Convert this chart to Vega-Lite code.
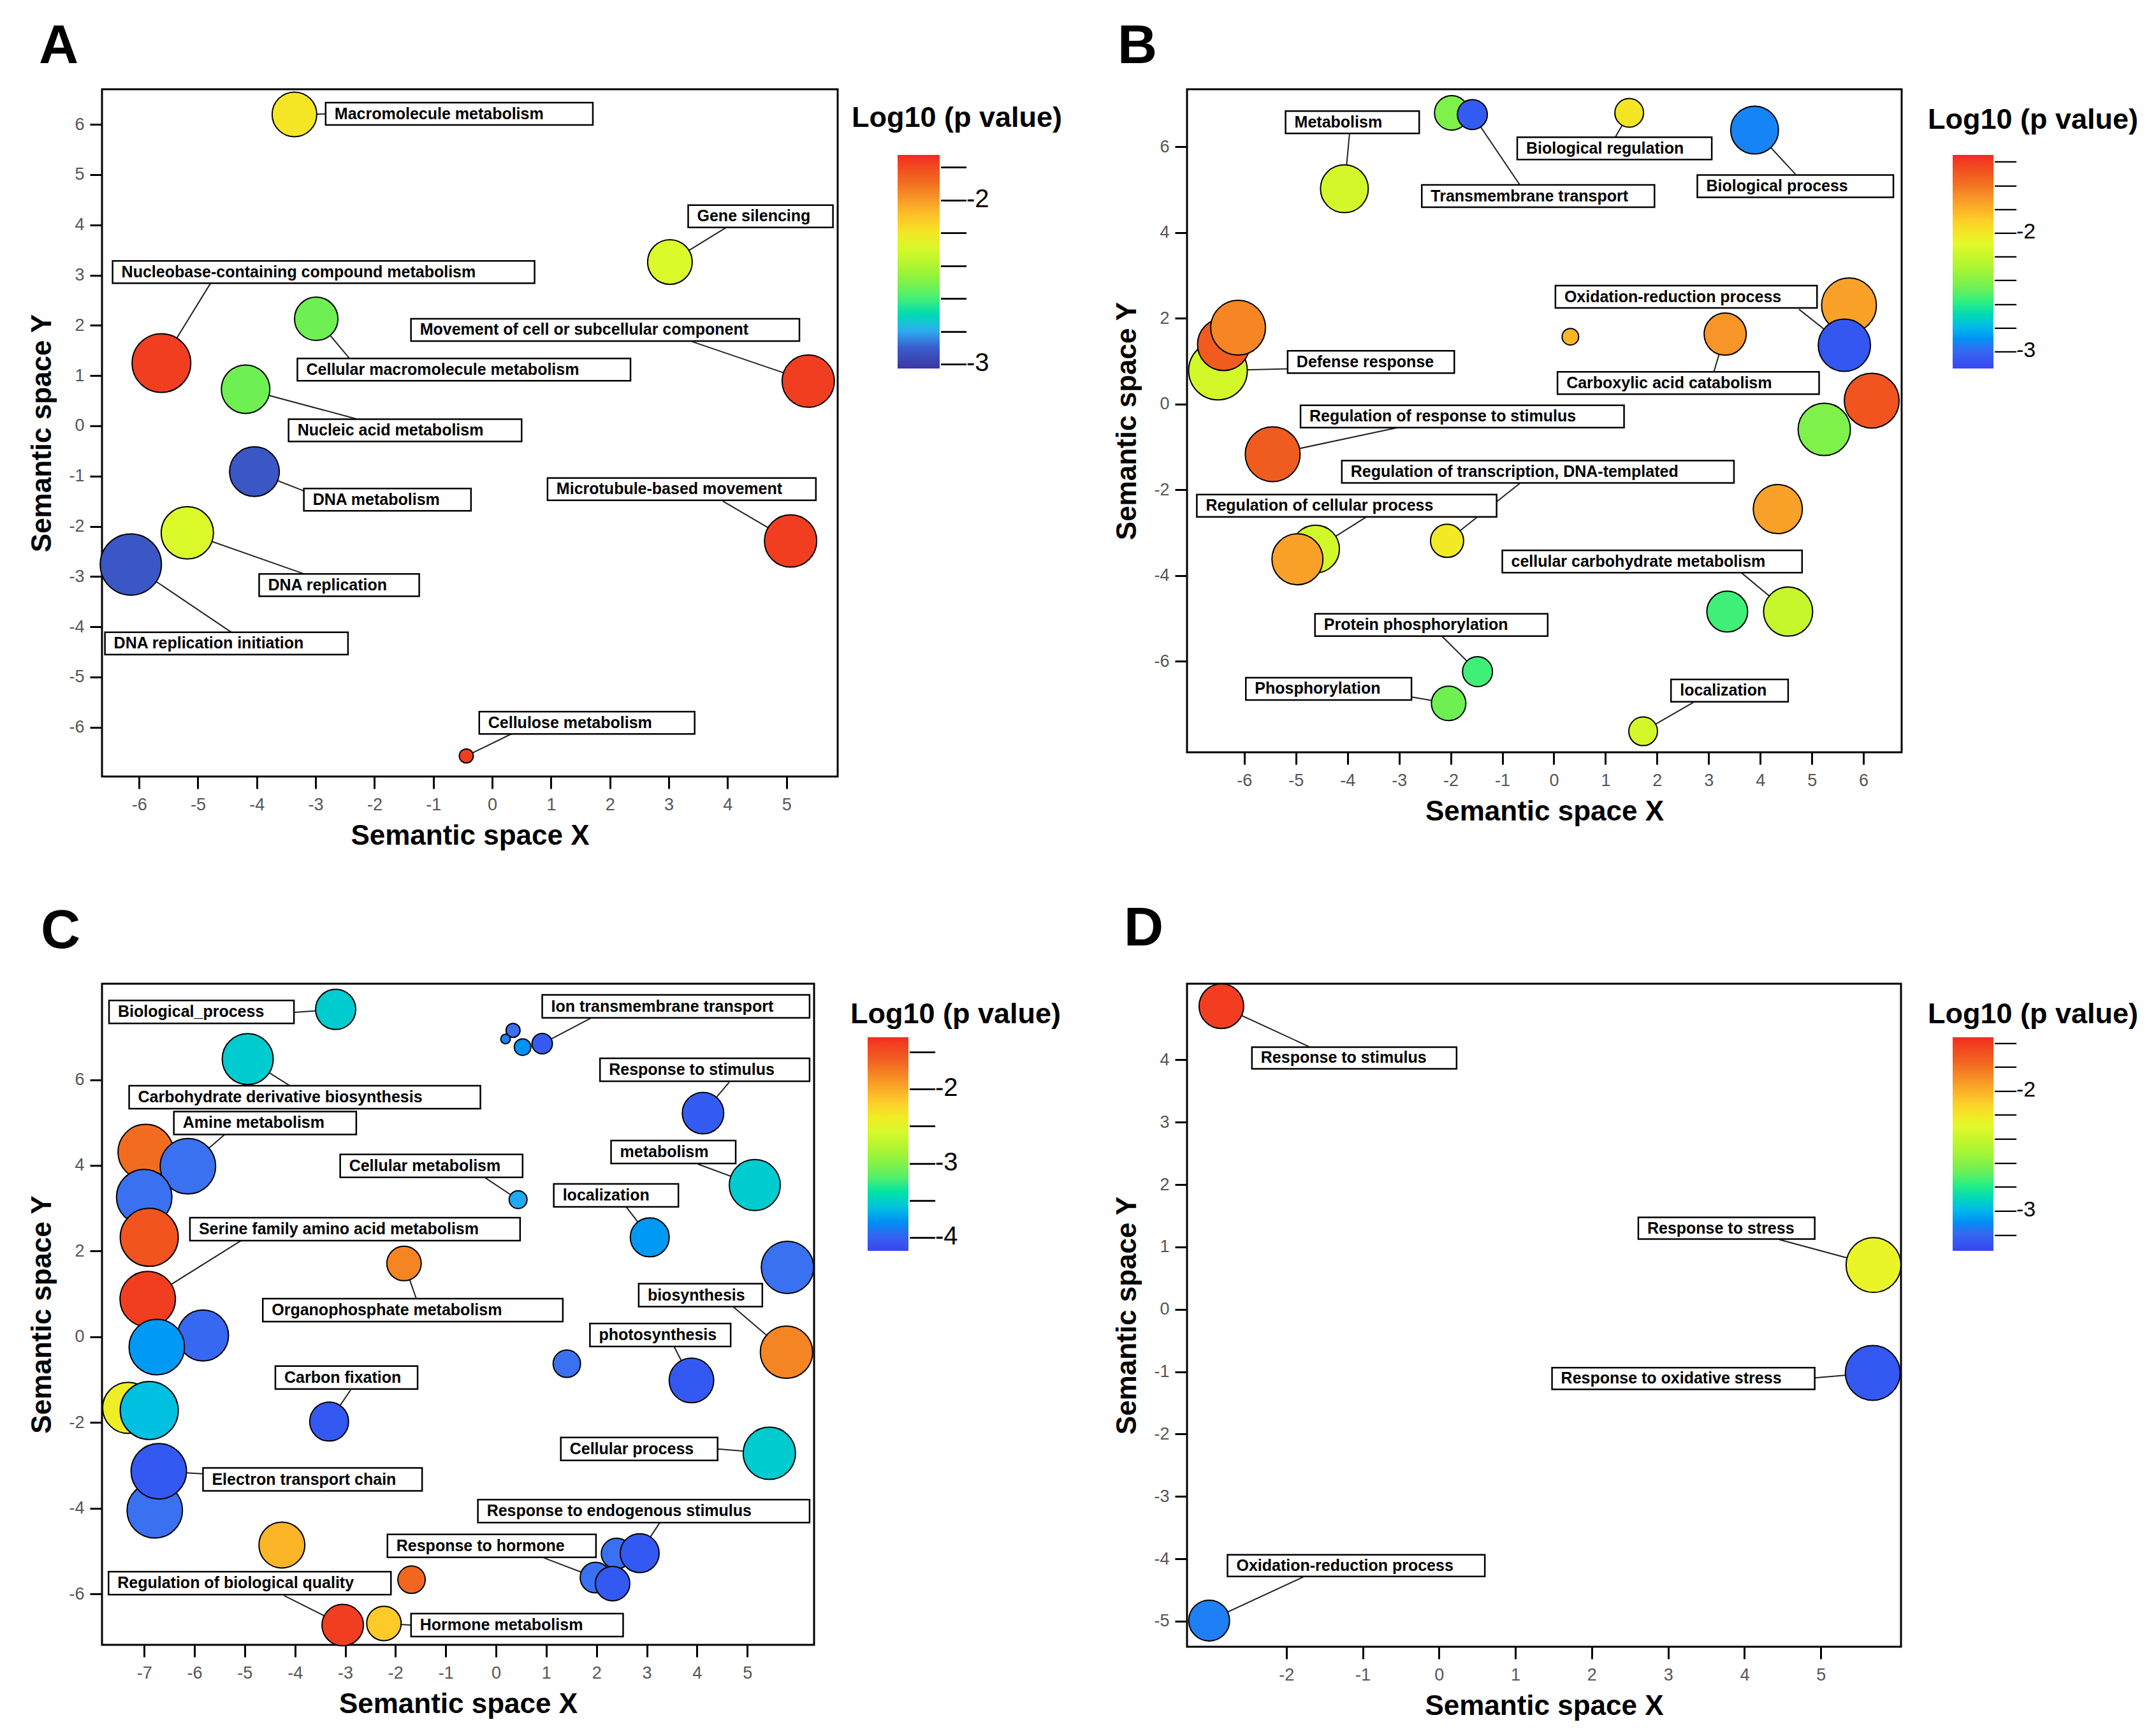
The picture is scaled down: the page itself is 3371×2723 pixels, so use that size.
{
"$schema": "https://vega.github.io/schema/vega-lite/v6.json",
"background": "white",
"padding": {"left": 43, "top": 28, "right": 5, "bottom": 5},
"bounds": "flush",
"columns": 2,
"spacing": {"row": 325, "column": 548},
"resolve": {"scale": {"color": "independent", "size": "independent", "x": "independent", "y": "independent"}, "legend": {"color": "independent", "size": "independent"}, "axis": {"x": "independent", "y": "independent"}},
"config": {
  "view": {"stroke": "black", "strokeWidth": 3},
  "font": "Liberation Sans",
  "title": {"anchor": "start", "frame": "group", "font": "Liberation Sans", "fontSize": 86, "fontWeight": "bold", "color": "black", "baseline": "alphabetic"},
  "axis": {"domain": false, "grid": false, "ticks": true, "tickColor": "black", "tickWidth": 3, "tickSize": 19, "labelColor": "#555555", "labelFont": "Liberation Sans Narrow, Liberation Sans", "labelFontSize": 27, "labelExpr": "datum.value + ''", "titleFont": "Liberation Sans", "titleFontSize": 44, "titleFontWeight": "bold", "titleColor": "black"},
  "axisX": {"labelPadding": 12, "titlePadding": 14},
  "axisY": {"labelPadding": 9, "titlePadding": 19},
  "legend": {"orient": "none", "direction": "vertical", "padding": 0, "gradientLength": 335, "gradientThickness": 64, "gradientStrokeWidth": 0, "titleFont": "Liberation Sans", "titleFontSize": 45, "titleFontWeight": "bold", "titleColor": "black", "titleAnchor": "start", "titleAlign": "left", "titleLimit": 2000, "labelFont": "Liberation Sans", "labelFontSize": 34, "labelColor": "black", "labelOffset": 0, "labelOverlap": false, "labelLimit": 300}
},
"datasets": {
  "aB": [
    {"term": "Macromolecule metabolism", "x": -3.36, "y": 6.2, "log10p": -2.2, "logSize": 3.5},
    {"term": "Gene silencing", "x": 3.02, "y": 3.26, "log10p": -2.29, "logSize": 3.5},
    {"term": "Nucleobase-containing compound metabolism", "x": -5.62, "y": 1.25, "log10p": -1.77, "logSize": 4.6},
    {"term": "Cellular macromolecule metabolism", "x": -2.99, "y": 2.13, "log10p": -2.54, "logSize": 3.4},
    {"term": "Movement of cell or subcellular component", "x": 5.37, "y": 0.89, "log10p": -1.77, "logSize": 4.1},
    {"term": "Nucleic acid metabolism", "x": -4.19, "y": 0.73, "log10p": -2.54, "logSize": 3.8},
    {"term": "DNA metabolism", "x": -4.04, "y": -0.91, "log10p": -2.93, "logSize": 3.9},
    {"term": "Microtubule-based movement", "x": 5.07, "y": -2.29, "log10p": -1.77, "logSize": 4.1},
    {"term": "DNA replication", "x": -5.18, "y": -2.13, "log10p": -2.29, "logSize": 4.1},
    {"term": "DNA replication initiation", "x": -6.14, "y": -2.76, "log10p": -2.93, "logSize": 4.8},
    {"term": "Cellulose metabolism", "x": -0.44, "y": -6.57, "log10p": -1.77, "logSize": 1.1}
  ],
  "aL": [
    {"label": "Macromolecule metabolism", "bx": -3.36, "by": 6.2, "ax": -2.83, "ay": 6.21, "x1": -2.83, "x2": 1.71, "ly": 6.21},
    {"label": "Gene silencing", "bx": 3.02, "by": 3.26, "ax": 3.98, "ay": 3.95, "x1": 3.33, "x2": 5.79, "ly": 4.17},
    {"label": "Nucleobase-containing compound metabolism", "bx": -5.62, "by": 1.25, "ax": -4.78, "ay": 2.85, "x1": -6.45, "x2": 0.72, "ly": 3.06},
    {"label": "Cellular macromolecule metabolism", "bx": -2.99, "by": 2.13, "ax": -2.43, "ay": 1.35, "x1": -3.31, "x2": 2.35, "ly": 1.12},
    {"label": "Movement of cell or subcellular component", "bx": 5.37, "by": 0.89, "ax": 3.39, "ay": 1.68, "x1": -1.38, "x2": 5.22, "ly": 1.91},
    {"label": "Nucleic acid metabolism", "bx": -4.19, "by": 0.73, "ax": -2.31, "ay": 0.14, "x1": -3.46, "x2": 0.5, "ly": -0.09},
    {"label": "DNA metabolism", "bx": -4.04, "by": -0.91, "ax": -3.19, "ay": -1.3, "x1": -3.2, "x2": -0.36, "ly": -1.47},
    {"label": "Microtubule-based movement", "bx": 5.07, "by": -2.29, "ax": 3.92, "ay": -1.5, "x1": 0.94, "x2": 5.5, "ly": -1.26},
    {"label": "DNA replication", "bx": -5.18, "by": -2.13, "ax": -3.19, "ay": -2.95, "x1": -3.96, "x2": -1.24, "ly": -3.17},
    {"label": "DNA replication initiation", "bx": -6.14, "by": -2.76, "ax": -4.43, "ay": -4.11, "x1": -6.58, "x2": -2.45, "ly": -4.33},
    {"label": "Cellulose metabolism", "bx": -0.44, "by": -6.57, "ax": 0.33, "ay": -6.13, "x1": -0.22, "x2": 3.44, "ly": -5.91}
  ],
  "bB": [
    {"term": "Metabolism", "x": -4.06, "y": 5.02, "log10p": -2.16, "logSize": 3.75},
    {"term": "b2", "x": -1.98, "y": 6.79, "log10p": -2.43, "logSize": 2.7},
    {"term": "Transmembrane transport", "x": -1.58, "y": 6.75, "log10p": -3.06, "logSize": 2.35},
    {"term": "Biological regulation", "x": 1.46, "y": 6.79, "log10p": -2.0, "logSize": 2.25},
    {"term": "Biological process", "x": 3.89, "y": 6.39, "log10p": -2.93, "logSize": 3.75},
    {"term": "Defense response", "x": -6.51, "y": 0.78, "log10p": -2.16, "logSize": 4.6},
    {"term": "b7", "x": -6.4, "y": 1.39, "log10p": -1.53, "logSize": 4.1},
    {"term": "b8", "x": -6.12, "y": 1.78, "log10p": -1.66, "logSize": 4.3},
    {"term": "b9", "x": 0.32, "y": 1.57, "log10p": -1.82, "logSize": 1.3},
    {"term": "Carboxylic acid catabolism", "x": 3.32, "y": 1.63, "log10p": -1.71, "logSize": 3.3},
    {"term": "b11", "x": 5.72, "y": 2.3, "log10p": -1.75, "logSize": 4.3},
    {"term": "Oxidation-reduction process", "x": 5.63, "y": 1.37, "log10p": -3.08, "logSize": 4.1},
    {"term": "b13", "x": 6.16, "y": 0.08, "log10p": -1.49, "logSize": 4.3},
    {"term": "b14", "x": 5.24, "y": -0.59, "log10p": -2.43, "logSize": 4.1},
    {"term": "Regulation of response to stimulus", "x": -5.45, "y": -1.17, "log10p": -1.53, "logSize": 4.3},
    {"term": "Regulation of transcription, DNA-templated", "x": -2.07, "y": -3.19, "log10p": -2.02, "logSize": 2.6},
    {"term": "Regulation of cellular process", "x": -4.62, "y": -3.38, "log10p": -2.16, "logSize": 3.75},
    {"term": "b18", "x": -4.97, "y": -3.62, "log10p": -1.75, "logSize": 4.0},
    {"term": "b19", "x": 4.34, "y": -2.45, "log10p": -1.75, "logSize": 3.85},
    {"term": "b20", "x": 3.36, "y": -4.84, "log10p": -2.57, "logSize": 3.2},
    {"term": "cellular carbohydrate metabolism", "x": 4.54, "y": -4.84, "log10p": -2.21, "logSize": 3.85},
    {"term": "Protein phosphorylation", "x": -1.48, "y": -6.24, "log10p": -2.57, "logSize": 2.35},
    {"term": "Phosphorylation", "x": -2.04, "y": -6.98, "log10p": -2.47, "logSize": 2.7},
    {"term": "localization", "x": 1.73, "y": -7.63, "log10p": -2.16, "logSize": 2.25}
  ],
  "bL": [
    {"label": "Metabolism", "bx": -4.06, "by": 5.02, "ax": -3.96, "ay": 6.31, "x1": -5.2, "x2": -2.61, "ly": 6.57},
    {"label": "Transmembrane transport", "bx": -1.58, "by": 6.75, "ax": -0.66, "ay": 5.11, "x1": -2.56, "x2": 1.95, "ly": 4.85},
    {"label": "Biological regulation", "bx": 1.46, "by": 6.79, "ax": 1.19, "ay": 6.22, "x1": -0.71, "x2": 3.06, "ly": 5.96},
    {"label": "Biological process", "bx": 3.89, "by": 6.39, "ax": 4.68, "ay": 5.36, "x1": 2.78, "x2": 6.58, "ly": 5.08},
    {"label": "Defense response", "bx": -6.51, "by": 0.78, "ax": -5.16, "ay": 0.82, "x1": -5.16, "x2": -1.93, "ly": 0.98},
    {"label": "Oxidation-reduction process", "bx": 5.63, "by": 1.37, "ax": 4.75, "ay": 2.21, "x1": 0.03, "x2": 5.1, "ly": 2.5},
    {"label": "Carboxylic acid catabolism", "bx": 3.32, "by": 1.63, "ax": 3.1, "ay": 0.75, "x1": 0.07, "x2": 5.14, "ly": 0.49},
    {"label": "Regulation of response to stimulus", "bx": -5.45, "by": -1.17, "ax": -3.03, "ay": -0.55, "x1": -4.91, "x2": 1.36, "ly": -0.29},
    {"label": "Regulation of transcription, DNA-templated", "bx": -2.07, "by": -3.19, "ax": -0.66, "ay": -1.85, "x1": -4.11, "x2": 3.49, "ly": -1.58},
    {"label": "Regulation of cellular process", "bx": -4.62, "by": -3.38, "ax": -3.63, "ay": -2.63, "x1": -6.92, "x2": -1.11, "ly": -2.37},
    {"label": "cellular carbohydrate metabolism", "bx": 4.54, "by": -4.84, "ax": 3.63, "ay": -3.93, "x1": -1.0, "x2": 4.81, "ly": -3.67},
    {"label": "Protein phosphorylation", "bx": -1.48, "by": -6.24, "ax": -2.18, "ay": -5.4, "x1": -4.63, "x2": -0.12, "ly": -5.15},
    {"label": "Phosphorylation", "bx": -2.04, "by": -6.98, "ax": -2.76, "ay": -6.83, "x1": -5.97, "x2": -2.76, "ly": -6.64},
    {"label": "localization", "bx": 1.73, "by": -7.63, "ax": 2.7, "ay": -6.96, "x1": 2.27, "x2": 4.54, "ly": -6.68}
  ],
  "cB": [
    {"term": "Biological_process", "x": -3.19, "y": 7.64, "log10p": -3.56, "logSize": 3.15},
    {"term": "c2", "x": 0.34, "y": 7.15, "log10p": -3.9, "logSize": 1.1},
    {"term": "c3", "x": 0.19, "y": 6.95, "log10p": -3.84, "logSize": 0.75},
    {"term": "c4", "x": 0.53, "y": 6.76, "log10p": -3.79, "logSize": 1.3},
    {"term": "Ion transmembrane transport", "x": 0.92, "y": 6.84, "log10p": -4.05, "logSize": 1.6},
    {"term": "Carbohydrate derivative biosynthesis", "x": -4.94, "y": 6.48, "log10p": -3.56, "logSize": 4.0},
    {"term": "Response to stimulus", "x": 4.12, "y": 5.22, "log10p": -4.05, "logSize": 3.25},
    {"term": "c8", "x": -6.97, "y": 4.31, "log10p": -1.68, "logSize": 4.35},
    {"term": "Amine metabolism", "x": -6.13, "y": 3.98, "log10p": -3.9, "logSize": 4.35},
    {"term": "c10", "x": -7.0, "y": 3.26, "log10p": -3.9, "logSize": 4.35},
    {"term": "metabolism", "x": 5.15, "y": 3.54, "log10p": -3.56, "logSize": 4.0},
    {"term": "Cellular metabolism", "x": 0.44, "y": 3.2, "log10p": -3.7, "logSize": 1.4},
    {"term": "localization", "x": 3.06, "y": 2.32, "log10p": -3.76, "logSize": 3.05},
    {"term": "c14", "x": -6.9, "y": 2.32, "log10p": -1.54, "logSize": 4.55},
    {"term": "Serine family amino acid metabolism", "x": -6.93, "y": 0.88, "log10p": -1.4, "logSize": 4.35},
    {"term": "Organophosphate metabolism", "x": -1.83, "y": 1.71, "log10p": -1.8, "logSize": 2.7},
    {"term": "c17", "x": 5.8, "y": 1.62, "log10p": -3.9, "logSize": 4.1},
    {"term": "biosynthesis", "x": 5.78, "y": -0.36, "log10p": -1.8, "logSize": 4.1},
    {"term": "c19", "x": -5.83, "y": 0.03, "log10p": -3.96, "logSize": 4.0},
    {"term": "c20", "x": -6.75, "y": -0.24, "log10p": -3.76, "logSize": 4.35},
    {"term": "photosynthesis", "x": 3.89, "y": -1.02, "log10p": -4.07, "logSize": 3.5},
    {"term": "c22", "x": 1.41, "y": -0.63, "log10p": -3.9, "logSize": 2.15},
    {"term": "Carbon fixation", "x": -3.32, "y": -1.98, "log10p": -4.07, "logSize": 3.05},
    {"term": "c24", "x": -7.32, "y": -1.66, "log10p": -2.4, "logSize": 4.0},
    {"term": "c25", "x": -6.9, "y": -1.72, "log10p": -3.61, "logSize": 4.55},
    {"term": "Cellular process", "x": 5.44, "y": -2.72, "log10p": -3.56, "logSize": 4.1},
    {"term": "c27", "x": -6.79, "y": -4.05, "log10p": -3.9, "logSize": 4.35},
    {"term": "Electron transport chain", "x": -6.71, "y": -3.14, "log10p": -4.07, "logSize": 4.35},
    {"term": "c29", "x": -4.26, "y": -4.86, "log10p": -2.06, "logSize": 3.6},
    {"term": "c30", "x": 2.4, "y": -5.06, "log10p": -3.9, "logSize": 2.4},
    {"term": "Response to endogenous stimulus", "x": 2.86, "y": -5.05, "log10p": -4.07, "logSize": 3.05},
    {"term": "Response to hormone", "x": 1.98, "y": -5.62, "log10p": -3.9, "logSize": 2.4},
    {"term": "c33", "x": 2.32, "y": -5.76, "log10p": -4.07, "logSize": 2.7},
    {"term": "c34", "x": -1.68, "y": -5.67, "log10p": -1.66, "logSize": 2.15},
    {"term": "Regulation of biological quality", "x": -3.05, "y": -6.73, "log10p": -1.4, "logSize": 3.25},
    {"term": "Hormone metabolism", "x": -2.23, "y": -6.69, "log10p": -2.17, "logSize": 2.7}
  ],
  "cL": [
    {"label": "Biological_process", "bx": -3.19, "by": 7.64, "ax": -4.02, "ay": 7.57, "x1": -7.7, "x2": -4.02, "ly": 7.58},
    {"label": "Ion transmembrane transport", "bx": 0.92, "by": 6.84, "ax": 1.89, "ay": 7.44, "x1": 0.92, "x2": 6.24, "ly": 7.71},
    {"label": "Carbohydrate derivative biosynthesis", "bx": -4.94, "by": 6.48, "ax": -4.09, "ay": 5.85, "x1": -7.3, "x2": -0.31, "ly": 5.59},
    {"label": "Response to stimulus", "bx": 4.12, "by": 5.22, "ax": 4.64, "ay": 5.94, "x1": 2.07, "x2": 6.24, "ly": 6.23},
    {"label": "Amine metabolism", "bx": -6.13, "by": 3.98, "ax": -5.39, "ay": 4.73, "x1": -6.41, "x2": -2.78, "ly": 4.99},
    {"label": "metabolism", "bx": 5.15, "by": 3.54, "ax": 4.02, "ay": 4.03, "x1": 2.29, "x2": 4.77, "ly": 4.31},
    {"label": "Cellular metabolism", "bx": 0.44, "by": 3.2, "ax": -0.24, "ay": 3.73, "x1": -3.1, "x2": 0.53, "ly": 3.99},
    {"label": "localization", "bx": 3.06, "by": 2.32, "ax": 2.58, "ay": 3.05, "x1": 1.15, "x2": 3.63, "ly": 3.3},
    {"label": "Serine family amino acid metabolism", "bx": -6.93, "by": 0.88, "ax": -5.05, "ay": 2.26, "x1": -6.09, "x2": 0.48, "ly": 2.51},
    {"label": "Organophosphate metabolism", "bx": -1.83, "by": 1.71, "ax": -1.58, "ay": 0.87, "x1": -4.64, "x2": 1.33, "ly": 0.62},
    {"label": "biosynthesis", "bx": 5.78, "by": -0.36, "ax": 4.71, "ay": 0.71, "x1": 2.84, "x2": 5.3, "ly": 0.97},
    {"label": "photosynthesis", "bx": 3.89, "by": -1.02, "ax": 3.54, "ay": -0.22, "x1": 1.87, "x2": 4.67, "ly": 0.04},
    {"label": "Carbon fixation", "bx": -3.32, "by": -1.98, "ax": -2.88, "ay": -1.22, "x1": -4.39, "x2": -1.56, "ly": -0.95},
    {"label": "Cellular process", "bx": 5.44, "by": -2.72, "ax": 4.41, "ay": -2.62, "x1": 1.29, "x2": 4.41, "ly": -2.62},
    {"label": "Electron transport chain", "bx": -6.71, "by": -3.14, "ax": -5.83, "ay": -3.2, "x1": -5.83, "x2": -1.47, "ly": -3.33},
    {"label": "Response to endogenous stimulus", "bx": 2.86, "by": -5.05, "ax": 3.27, "ay": -4.32, "x1": -0.36, "x2": 6.24, "ly": -4.07},
    {"label": "Response to hormone", "bx": 1.98, "by": -5.62, "ax": 0.93, "ay": -5.15, "x1": -2.16, "x2": 1.99, "ly": -4.88},
    {"label": "Regulation of biological quality", "bx": -3.05, "by": -6.73, "ax": -4.22, "ay": -6.04, "x1": -7.71, "x2": -2.09, "ly": -5.75},
    {"label": "Hormone metabolism", "bx": -2.23, "by": -6.69, "ax": -1.69, "ay": -6.73, "x1": -1.69, "x2": 2.53, "ly": -6.73}
  ],
  "dB": [
    {"term": "Response to stimulus", "x": -2.85, "y": 4.86, "log10p": -1.61, "logSize": 3.5},
    {"term": "Response to stress", "x": 5.69, "y": 0.71, "log10p": -2.27, "logSize": 4.3},
    {"term": "Response to oxidative stress", "x": 5.68, "y": -1.02, "log10p": -3.27, "logSize": 4.3},
    {"term": "Oxidation-reduction process", "x": -3.01, "y": -4.99, "log10p": -3.13, "logSize": 3.2}
  ],
  "dL": [
    {"label": "Response to stimulus", "bx": -2.85, "by": 4.86, "ax": -1.7, "ay": 4.21, "x1": -2.45, "x2": 0.23, "ly": 4.03},
    {"label": "Response to stress", "bx": 5.69, "by": 0.71, "ax": 4.45, "ay": 1.12, "x1": 2.61, "x2": 4.92, "ly": 1.3},
    {"label": "Response to oxidative stress", "bx": 5.68, "by": -1.02, "ax": 4.92, "ay": -1.1, "x1": 1.48, "x2": 4.92, "ly": -1.11},
    {"label": "Oxidation-reduction process", "bx": -3.01, "by": -4.99, "ax": -1.74, "ay": -4.27, "x1": -2.77, "x2": 0.6, "ly": -4.11}
  ]
},
"concat": [
  {
    "width": 1154, "height": 1078,
    "title": {"text": "A", "dx": -99, "offset": 23},
    "layer": [
      {"data": {"name": "aL"}, "mark": {"type": "rule", "color": "#222222", "strokeWidth": 2},
       "encoding": {
         "x": {"field": "bx", "type": "quantitative", "title": "Semantic space X", "scale": {"domain": [-6.63, 5.87], "nice": false, "zero": false}, "axis": {"values": [-6, -5, -4, -3, -2, -1, 0, 1, 2, 3, 4, 5]}},
         "y": {"field": "by", "type": "quantitative", "title": "Semantic space Y", "scale": {"domain": [-6.98, 6.7], "nice": false, "zero": false}, "axis": {"values": [-6, -5, -4, -3, -2, -1, 0, 1, 2, 3, 4, 5, 6]}},
         "x2": {"field": "ax"}, "y2": {"field": "ay"}}},
      {"data": {"name": "aB"}, "mark": {"type": "circle", "opacity": 1, "stroke": "black", "strokeWidth": 2},
       "encoding": {
         "x": {"field": "x", "type": "quantitative", "title": "Semantic space X"},
         "y": {"field": "y", "type": "quantitative", "title": "Semantic space Y"},
         "size": {"field": "logSize", "type": "quantitative", "scale": {"type": "pow", "exponent": 2, "domain": [0, 5], "range": [0, 10000]}, "legend": null},
         "color": {"field": "log10p", "type": "quantitative",
           "scale": {"domain": [-3.03, -2.9, -2.796, -2.731, -2.627, -2.536, -2.406, -2.263, -2.133, -2.003, -1.873, -1.73], "range": ["#3a35a0", "#3a60d0", "#30b0f0", "#30d0c0", "#30f080", "#70f050", "#b0f530", "#e6fa2a", "#fdd02a", "#f89a2a", "#f06020", "#f22b22"], "zero": false, "nice": false, "clamp": true},
           "legend": {"title": "Log10 (p value)", "legendX": 1176, "legendY": 23, "titlePadding": 35, "gradientThickness": 66, "labelFontSize": 40, "values": [-3, -2.8, -2.6, -2.4, -2.2, -2, -1.8], "labelExpr": "datum.value == -2 ? '—-2' : datum.value == -3 ? '—-3' : '—'", "encoding": {"title": {"dx": {"value": -72}}}}}}},
      {"data": {"name": "aL"}, "mark": {"type": "rect", "fill": "white", "stroke": "black", "strokeWidth": 2.5, "yOffset": -17.5, "y2Offset": 17.5},
       "encoding": {"x": {"field": "x1", "type": "quantitative", "title": "Semantic space X"}, "x2": {"field": "x2"}, "y": {"field": "ly", "type": "quantitative", "title": "Semantic space Y"}, "y2": {"field": "ly"}}},
      {"data": {"name": "aL"}, "mark": {"type": "text", "align": "left", "baseline": "middle", "dx": 14, "font": "Liberation Sans", "fontWeight": "bold", "fontSize": 25, "color": "black"},
       "encoding": {"x": {"field": "x1", "type": "quantitative", "title": "Semantic space X"}, "y": {"field": "ly", "type": "quantitative", "title": "Semantic space Y"}, "text": {"field": "label"}}}
    ]
  },
  {
    "width": 1121, "height": 1040,
    "title": {"text": "B", "dx": -109, "offset": 23},
    "layer": [
      {"data": {"name": "bL"}, "mark": {"type": "rule", "color": "#222222", "strokeWidth": 2},
       "encoding": {
         "x": {"field": "bx", "type": "quantitative", "title": "Semantic space X", "scale": {"domain": [-7.11, 6.74], "nice": false, "zero": false}, "axis": {"values": [-6, -5, -4, -3, -2, -1, 0, 1, 2, 3, 4, 5, 6]}},
         "y": {"field": "by", "type": "quantitative", "title": "Semantic space Y", "scale": {"domain": [-8.12, 7.34], "nice": false, "zero": false}, "axis": {"values": [-6, -4, -2, 0, 2, 4, 6]}},
         "x2": {"field": "ax"}, "y2": {"field": "ay"}}},
      {"data": {"name": "bB"}, "mark": {"type": "circle", "opacity": 1, "stroke": "black", "strokeWidth": 2},
       "encoding": {
         "x": {"field": "x", "type": "quantitative", "title": "Semantic space X"},
         "y": {"field": "y", "type": "quantitative", "title": "Semantic space Y"},
         "size": {"field": "logSize", "type": "quantitative", "scale": {"type": "pow", "exponent": 2, "domain": [0, 5], "range": [0, 10000]}, "legend": null},
         "color": {"field": "log10p", "type": "quantitative",
           "scale": {"domain": [-3.15, -2.97, -2.826, -2.736, -2.592, -2.466, -2.286, -2.088, -1.908, -1.728, -1.548, -1.35], "range": ["#3a45f0", "#3a70f0", "#30b0f0", "#30d0c0", "#30f080", "#70f050", "#b0f530", "#e6fa2a", "#fdd02a", "#f89a2a", "#f06020", "#f22b22"], "zero": false, "nice": false, "clamp": true},
           "legend": {"title": "Log10 (p value)", "legendX": 1162, "legendY": 26, "titlePadding": 32, "values": [-3, -2.8, -2.6, -2.4, -2.2, -2, -1.8, -1.6, -1.4], "labelExpr": "datum.value == -2 ? '—-2' : datum.value == -3 ? '—-3' : '—'", "encoding": {"title": {"dx": {"value": -39}}}}}}},
      {"data": {"name": "bL"}, "mark": {"type": "rect", "fill": "white", "stroke": "black", "strokeWidth": 2.5, "yOffset": -17.5, "y2Offset": 17.5},
       "encoding": {"x": {"field": "x1", "type": "quantitative", "title": "Semantic space X"}, "x2": {"field": "x2"}, "y": {"field": "ly", "type": "quantitative", "title": "Semantic space Y"}, "y2": {"field": "ly"}}},
      {"data": {"name": "bL"}, "mark": {"type": "text", "align": "left", "baseline": "middle", "dx": 14, "font": "Liberation Sans", "fontWeight": "bold", "fontSize": 25, "color": "black"},
       "encoding": {"x": {"field": "x1", "type": "quantitative", "title": "Semantic space X"}, "y": {"field": "ly", "type": "quantitative", "title": "Semantic space Y"}, "text": {"field": "label"}}}
    ]
  },
  {
    "width": 1117, "height": 1037,
    "title": {"text": "C", "dx": -96, "offset": 38},
    "layer": [
      {"data": {"name": "cL"}, "mark": {"type": "rule", "color": "#222222", "strokeWidth": 2},
       "encoding": {
         "x": {"field": "bx", "type": "quantitative", "title": "Semantic space X", "scale": {"domain": [-7.84, 6.33], "nice": false, "zero": false}, "axis": {"values": [-7, -6, -5, -4, -3, -2, -1, 0, 1, 2, 3, 4, 5]}},
         "y": {"field": "by", "type": "quantitative", "title": "Semantic space Y", "scale": {"domain": [-7.19, 8.24], "nice": false, "zero": false}, "axis": {"values": [-6, -4, -2, 0, 2, 4, 6]}},
         "x2": {"field": "ax"}, "y2": {"field": "ay"}}},
      {"data": {"name": "cB"}, "mark": {"type": "circle", "opacity": 1, "stroke": "black", "strokeWidth": 2},
       "encoding": {
         "x": {"field": "x", "type": "quantitative", "title": "Semantic space X"},
         "y": {"field": "y", "type": "quantitative", "title": "Semantic space Y"},
         "size": {"field": "logSize", "type": "quantitative", "scale": {"type": "pow", "exponent": 2, "domain": [0, 5], "range": [0, 10000]}, "legend": null},
         "color": {"field": "log10p", "type": "quantitative",
           "scale": {"domain": [-4.19, -3.902, -3.672, -3.528, -3.297, -3.096, -2.808, -2.491, -2.203, -1.915, -1.627, -1.31], "range": ["#3a45f0", "#3a70f0", "#30b0f0", "#30d0c0", "#30f080", "#70f050", "#b0f530", "#e6fa2a", "#fdd02a", "#f89a2a", "#f06020", "#f22b22"], "zero": false, "nice": false, "clamp": true},
           "legend": {"title": "Log10 (p value)", "legendX": 1174, "legendY": 26, "titlePadding": 13, "labelFontSize": 40, "values": [-4, -3.5, -3, -2.5, -2, -1.5], "labelExpr": "datum.value == -2 ? '—-2' : datum.value == -3 ? '—-3' : datum.value == -4 ? '—-4' : '—'", "encoding": {"title": {"dx": {"value": -27}}}}}}},
      {"data": {"name": "cL"}, "mark": {"type": "rect", "fill": "white", "stroke": "black", "strokeWidth": 2.5, "yOffset": -18, "y2Offset": 18},
       "encoding": {"x": {"field": "x1", "type": "quantitative", "title": "Semantic space X"}, "x2": {"field": "x2"}, "y": {"field": "ly", "type": "quantitative", "title": "Semantic space Y"}, "y2": {"field": "ly"}}},
      {"data": {"name": "cL"}, "mark": {"type": "text", "align": "left", "baseline": "middle", "dx": 14, "font": "Liberation Sans", "fontWeight": "bold", "fontSize": 25, "color": "black"},
       "encoding": {"x": {"field": "x1", "type": "quantitative", "title": "Semantic space X"}, "y": {"field": "ly", "type": "quantitative", "title": "Semantic space Y"}, "text": {"field": "label"}}}
    ]
  },
  {
    "width": 1120, "height": 1040,
    "title": {"text": "D", "dx": -99, "offset": 38},
    "layer": [
      {"data": {"name": "dL"}, "mark": {"type": "rule", "color": "#222222", "strokeWidth": 2},
       "encoding": {
         "x": {"field": "bx", "type": "quantitative", "title": "Semantic space X", "scale": {"domain": [-3.3, 6.05], "nice": false, "zero": false}, "axis": {"values": [-2, -1, 0, 1, 2, 3, 4, 5]}},
         "y": {"field": "by", "type": "quantitative", "title": "Semantic space Y", "scale": {"domain": [-5.41, 5.22], "nice": false, "zero": false}, "axis": {"values": [-5, -4, -3, -2, -1, 0, 1, 2, 3, 4]}},
         "x2": {"field": "ax"}, "y2": {"field": "ay"}}},
      {"data": {"name": "dB"}, "mark": {"type": "circle", "opacity": 1, "stroke": "black", "strokeWidth": 2},
       "encoding": {
         "x": {"field": "x", "type": "quantitative", "title": "Semantic space X"},
         "y": {"field": "y", "type": "quantitative", "title": "Semantic space Y"},
         "size": {"field": "logSize", "type": "quantitative", "scale": {"type": "pow", "exponent": 2, "domain": [0, 5], "range": [0, 10000]}, "legend": null},
         "color": {"field": "log10p", "type": "quantitative",
           "scale": {"domain": [-3.34, -3.162, -3.02, -2.931, -2.788, -2.664, -2.486, -2.29, -2.112, -1.934, -1.756, -1.56], "range": ["#3a45f0", "#3a70f0", "#30b0f0", "#30d0c0", "#30f080", "#70f050", "#b0f530", "#e6fa2a", "#fdd02a", "#f89a2a", "#f06020", "#f22b22"], "zero": false, "nice": false, "clamp": true},
           "legend": {"title": "Log10 (p value)", "legendX": 1162, "legendY": 26, "titlePadding": 13, "values": [-3.2, -3, -2.8, -2.6, -2.4, -2.2, -2, -1.8, -1.6], "labelExpr": "datum.value == -2 ? '—-2' : datum.value == -3 ? '—-3' : '—'", "encoding": {"title": {"dx": {"value": -39}}}}}}},
      {"data": {"name": "dL"}, "mark": {"type": "rect", "fill": "white", "stroke": "black", "strokeWidth": 2.5, "yOffset": -17, "y2Offset": 17},
       "encoding": {"x": {"field": "x1", "type": "quantitative", "title": "Semantic space X"}, "x2": {"field": "x2"}, "y": {"field": "ly", "type": "quantitative", "title": "Semantic space Y"}, "y2": {"field": "ly"}}},
      {"data": {"name": "dL"}, "mark": {"type": "text", "align": "left", "baseline": "middle", "dx": 14, "font": "Liberation Sans", "fontWeight": "bold", "fontSize": 25, "color": "black"},
       "encoding": {"x": {"field": "x1", "type": "quantitative", "title": "Semantic space X"}, "y": {"field": "ly", "type": "quantitative", "title": "Semantic space Y"}, "text": {"field": "label"}}}
    ]
  }
]
}
